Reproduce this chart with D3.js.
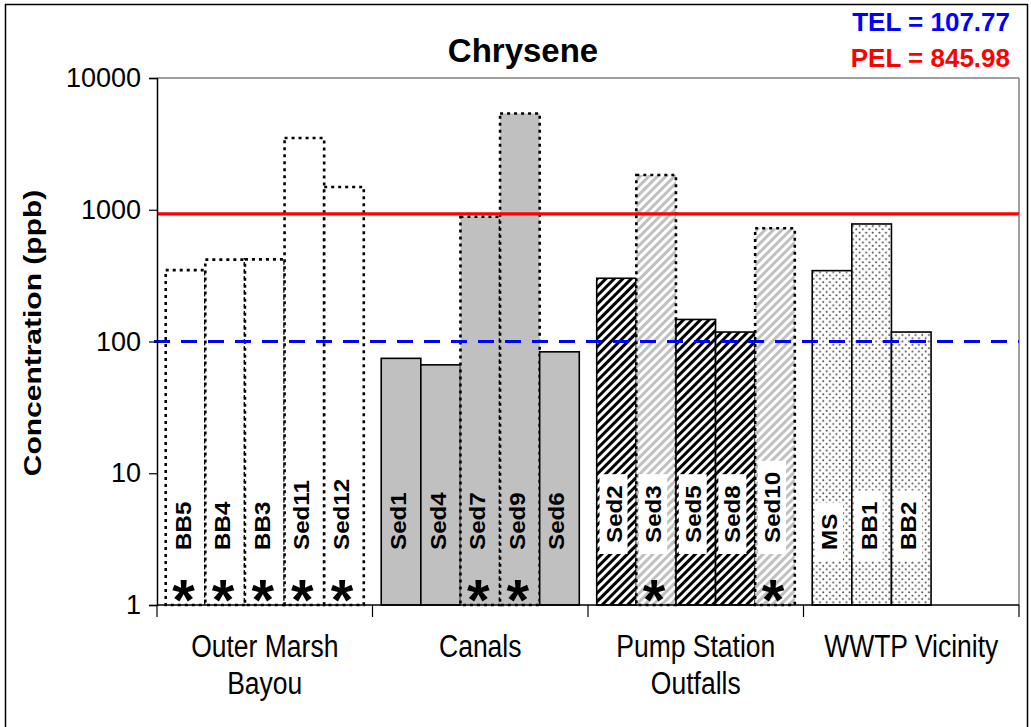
<!DOCTYPE html>
<html><head><meta charset="utf-8">
<script src="https://cdn.jsdelivr.net/npm/d3@7"></script>
<style>body{margin:0;background:#fff} svg text{font-family:"Liberation Sans",Arial,sans-serif}</style>
</head><body><svg id="c" width="1031" height="727"></svg>
<script>
// ---- data ----
const groups = ["Outer Marsh|Bayou", "Canals", "Pump Station|Outfalls", "WWTP Vicinity"];
const samples = ["BB5","BB4","BB3","Sed11","Sed12","Sed1","Sed4","Sed7","Sed9","Sed6","Sed2","Sed3","Sed5","Sed8","Sed10","MS","BB1","BB2"];
const sampleGroup = [0,0,0,0,0,1,1,1,1,1,2,2,2,2,2,3,3,3];
const sampleSlot  = [0,1,2,3,4,0,1,2,3,4,0,1,2,3,4,0,1,2];
const values = [348, 418, 420, 3500, 1490, 74.5, 66.5, 885, 5380, 83.5, 302, 1836, 147, 118, 723, 345, 780, 118];
const estimated = [1,1,1,1,1,0,0,1,1,0,0,1,0,0,1,0,0,0];
const yTicks = [1, 10, 100, 1000, 10000];
const guideValues = [100, 930];
const guideLabels = ["TEL = 107.77", "PEL = 845.98"];
const title = "Chrysene";
const yTitle = "Concentration (ppb)";

// ---- layout ----
const svg = d3.select("#c");
const L = 157, R = 1019, T = 78, B = 605;
const y = d3.scaleLog().domain([1, 10000]).range([B, T]);
const xg = d3.scaleBand().domain(d3.range(groups.length)).range([L, R]).padding(0);
const xs = d3.scaleBand().domain(d3.range(5)).range([0, xg.bandwidth()]).paddingInner(0).paddingOuter(0.22);

// outer frame
svg.append("rect").attr("x",5.5).attr("y",4.5).attr("width",1022).attr("height",760)
  .attr("fill","none").attr("stroke","#000").attr("stroke-width",1.5);

// patterns
const defs = svg.append("defs");
function hatch(id, color){
  const p = defs.append("pattern").attr("id",id).attr("patternUnits","userSpaceOnUse")
    .attr("width",6).attr("height",6).attr("patternTransform","rotate(45)");
  p.append("rect").attr("width",6).attr("height",6).attr("fill","#fff");
  p.append("rect").attr("width",3).attr("height",6).attr("fill",color);
}
hatch("hDark","#000");
hatch("hLight","#c0c0c0");
const dp = defs.append("pattern").attr("id","dots").attr("patternUnits","userSpaceOnUse")
  .attr("width",6.6).attr("height",6.6);
dp.append("rect").attr("width",6.6).attr("height",6.6).attr("fill","#fff");
dp.append("circle").attr("cx",1.6).attr("cy",1.6).attr("r",1).attr("fill","#444");
dp.append("circle").attr("cx",4.9).attr("cy",4.9).attr("r",1).attr("fill","#444");

function fillOf(i){
  const g = sampleGroup[i];
  if (g === 0) return "#fff";
  if (g === 1) return "#c0c0c0";
  if (g === 2) return estimated[i] ? "url(#hLight)" : "url(#hDark)";
  return "url(#dots)";
}

// plot border (top / right)
svg.append("line").attr("x1",L).attr("x2",R).attr("y1",T).attr("y2",T).attr("stroke","#808080").attr("stroke-width",1.5);
svg.append("line").attr("x1",R).attr("x2",R).attr("y1",T).attr("y2",B).attr("stroke","#808080").attr("stroke-width",1.5);

const bx = i => xg(sampleGroup[i]) + xs(sampleSlot[i]);
const idx = d3.range(samples.length);

// bars
svg.append("g").selectAll("rect").data(idx).join("rect")
  .attr("x", i => bx(i)).attr("width", xs.bandwidth())
  .attr("y", i => y(values[i])).attr("height", i => B - y(values[i]))
  .attr("fill", fillOf).attr("stroke","#000")
  .attr("stroke-width", i => estimated[i] ? 2.6 : 1.6)
  .attr("stroke-dasharray", i => estimated[i] ? "3 4" : null);

// bar labels
const lab = svg.append("g");
idx.forEach(i => {
  const cx = bx(i) + xs.bandwidth()/2 - 3;
  const bottom = sampleGroup[i] === 2 ? 543 : 550;
  const g = lab.append("g");
  const t = g.append("text").text(samples[i])
    .attr("transform", `translate(${cx+8},${bottom}) rotate(-90) scale(1.1,1)`)
    .attr("font-size",22).attr("font-weight","bold").attr("fill","#000");
  if (sampleGroup[i] >= 2) {
    const len = t.node().getComputedTextLength() * 1.1;
    g.insert("rect","text").attr("x",cx-14).attr("width",28)
      .attr("y",bottom-len-11).attr("height",len+22).attr("fill","#fff");
  }
  if (estimated[i]) {
    lab.append("text").text("*").attr("x", bx(i) + xs.bandwidth()/2 - 2).attr("y", 620)
      .attr("text-anchor","middle").attr("font-size",58).attr("font-weight","bold");
  }
});

// guide lines
svg.append("line").attr("x1",L).attr("x2",R).attr("y1",y(guideValues[1])).attr("y2",y(guideValues[1]))
  .attr("stroke","#ff0000").attr("stroke-width",3.2);
svg.append("line").attr("x1",L-3).attr("x2",R).attr("y1",y(guideValues[0])).attr("y2",y(guideValues[0]))
  .attr("stroke","#0000ff").attr("stroke-width",3.2).attr("stroke-dasharray","16 11");

// y axis
const ya = svg.append("g").attr("transform",`translate(${L},0)`)
  .call(d3.axisLeft(y).tickValues(yTicks).tickSize(8).tickPadding(8).tickFormat(d3.format("d")));
ya.select(".domain").attr("stroke","#000").attr("stroke-width",1.5);
ya.selectAll(".tick line").attr("stroke","#000").attr("stroke-width",1.2);
ya.selectAll(".tick text").attr("font-size",27).attr("fill","#000")
  .style("font-family",'"Liberation Sans",Arial,sans-serif');

// x axis
svg.append("line").attr("x1",L).attr("x2",R).attr("y1",B).attr("y2",B).attr("stroke","#000").attr("stroke-width",1.5);
const bounds = groups.map((g,k)=>xg(k)).concat([R]);
svg.append("g").selectAll("line").data(bounds).join("line")
  .attr("x1",d=>d).attr("x2",d=>d).attr("y1",B).attr("y2",B+12).attr("stroke","#000").attr("stroke-width",1.2);
groups.forEach((g,k) => {
  g.split("|").forEach((ln,j) => {
    svg.append("text").text(ln)
      .attr("transform", `translate(${xg(k)+xg.bandwidth()/2},${657 + j*37}) scale(1,1.2)`)
      .attr("text-anchor","middle").attr("font-size",26.5).attr("fill","#000");
  });
});

// titles
svg.append("text").text(title).attr("x",523).attr("y",62).attr("text-anchor","middle")
  .attr("font-size",33).attr("font-weight","bold");
svg.append("text").text(yTitle).attr("transform","translate(41,333) rotate(-90) scale(1.25,1)")
  .attr("text-anchor","middle").attr("font-size",24).attr("font-weight","bold");
svg.append("text").text(guideLabels[0]).attr("x",1010).attr("y",31).attr("text-anchor","end")
  .attr("font-size",26).attr("font-weight","bold").attr("fill","#0000ff");
svg.append("text").text(guideLabels[1]).attr("x",1010).attr("y",67).attr("text-anchor","end")
  .attr("font-size",26).attr("font-weight","bold").attr("fill","#ff0000");
</script></body></html>
